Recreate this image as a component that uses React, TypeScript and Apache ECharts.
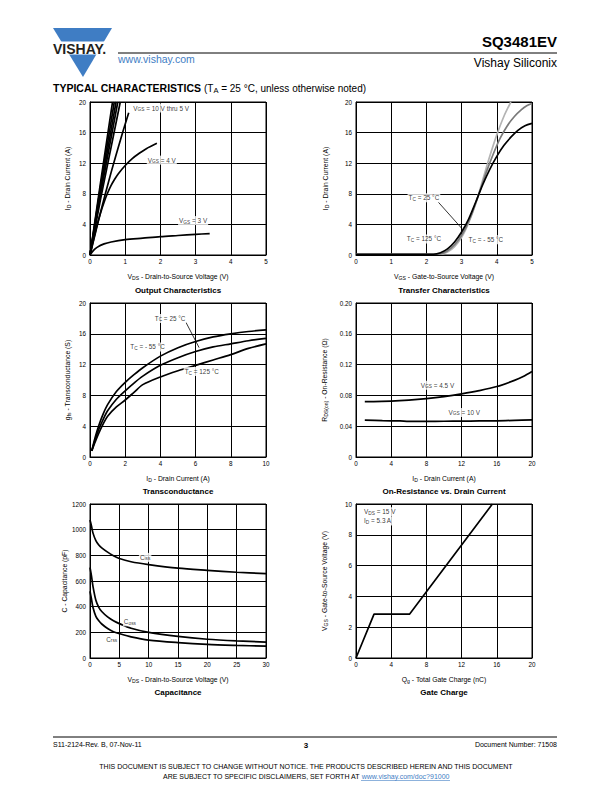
import React, { useEffect, useRef } from "react";
import * as echarts from "echarts";

const FONT = "'Liberation Sans', Arial, Helvetica, sans-serif";
const BLUE = "#3f7dc4";

// ---------- Output Characteristics: ID (A) vs VDS (V) ----------
const outVgs10 = [[0, 0], [0.3, 9.5], [0.64, 20]];
const outVgs9 = [[0, 0], [0.3, 9.0], [0.69, 20]];
const outVgs8 = [[0, 0], [0.3, 8.5], [0.74, 20]];
const outVgs7 = [[0, 0], [0.3, 8.0], [0.79, 20]];
const outVgs6 = [[0, 0], [0.3, 7.3], [0.86, 20]];
const outVgs5 = [[0, 0], [0.3, 5.6], [0.6, 10.8], [0.9, 15.6], [1.1, 18.6]];
const outVgs4 = [[0, 0], [0.1, 2.0], [0.2, 3.9], [0.3, 5.5], [0.4, 6.9], [0.5, 8.1], [0.6, 9.1], [0.7, 9.9], [0.8, 10.6], [1.0, 11.7], [1.2, 12.6], [1.4, 13.3], [1.6, 13.9], [1.9, 14.6]];
const outVgs3 = [[0, 0], [0.1, 0.6], [0.2, 1.0], [0.4, 1.45], [0.6, 1.7], [1.0, 2.0], [1.5, 2.2], [2.0, 2.4], [2.5, 2.55], [3.0, 2.7], [3.4, 2.8]];

// ---------- Transfer Characteristics: ID (A) vs VGS (V) ----------
const trM55 = [[0, 0.1], [2.4, 0.1], [2.6, 0.4], [2.8, 1.1], [3.0, 2.3], [3.2, 4.2], [3.4, 6.7], [3.6, 9.8], [3.8, 12.9], [4.0, 15.7], [4.2, 18.1], [4.4, 20.0]];
const tr25 = [[0, 0.1], [2.3, 0.1], [2.5, 0.3], [2.7, 0.9], [2.9, 1.9], [3.1, 3.4], [3.3, 5.5], [3.5, 8.1], [3.7, 10.8], [3.9, 13.2], [4.1, 15.3], [4.3, 16.9], [4.5, 18.1], [4.7, 19.0], [4.85, 19.5], [5.0, 19.8]];
const tr125 = [[0, 0.1], [2.2, 0.1], [2.4, 0.3], [2.6, 0.8], [2.8, 1.7], [3.0, 3.0], [3.2, 4.7], [3.4, 6.9], [3.6, 9.2], [3.8, 11.2], [4.0, 12.9], [4.2, 14.3], [4.4, 15.4], [4.6, 16.3], [4.8, 16.9], [5.0, 17.2]];

// ---------- Transconductance: gfs (S) vs ID (A) ----------
const gfsM55 = [[0.1, 0.8], [0.3, 2.6], [0.5, 4.1], [0.75, 5.6], [1, 6.8], [1.5, 8.5], [2, 9.7], [2.5, 10.7], [3, 11.6], [4, 13.1], [5, 14.2], [6, 15.0], [7, 15.6], [8, 16.0], [9, 16.3], [10, 16.5]];
const gfs25 = [[0.1, 0.8], [0.3, 2.3], [0.5, 3.6], [0.75, 4.9], [1, 6.0], [1.5, 7.5], [2, 8.6], [2.5, 9.6], [3, 10.5], [4, 11.9], [5, 12.9], [6, 13.7], [7, 14.3], [8, 14.7], [9, 15.1], [10, 15.4]];
const gfs125 = [[0.1, 0.8], [0.3, 2.0], [0.5, 3.1], [0.75, 4.3], [1, 5.3], [1.5, 6.5], [2, 7.4], [2.5, 8.4], [3, 9.4], [4, 10.4], [5, 11.2], [6, 11.9], [7, 12.6], [8, 13.3], [9, 14.1], [10, 14.7]];

// ---------- On-Resistance vs Drain Current: RDS(on) (Ω) vs ID (A) ----------
const rds45 = [[1, 0.072], [2, 0.072], [4, 0.0725], [6, 0.0738], [8, 0.0758], [10, 0.0785], [12, 0.082], [14, 0.0862], [16, 0.0915], [18, 0.0995], [19, 0.1045], [20, 0.111]];
const rds10 = [[1, 0.048], [3, 0.0472], [5, 0.0468], [6, 0.0462], [8, 0.0462], [10, 0.0464], [12, 0.0466], [14, 0.0468], [16, 0.047], [18, 0.0476], [20, 0.0482]];

// ---------- Capacitance: C (pF) vs VDS (V) ----------
const ciss = [[0, 1075], [0.25, 1030], [0.5, 975], [1, 915], [1.5, 880], [2, 858], [3, 825], [4, 797], [5, 775], [7, 750], [10, 728], [15, 700], [20, 683], [25, 668], [30, 657]];
const coss = [[0, 705], [0.25, 640], [0.5, 560], [1, 450], [1.5, 395], [2, 362], [3, 320], [4, 290], [5, 268], [7, 232], [10, 200], [15, 168], [20, 146], [25, 133], [30, 124]];
const crss = [[0, 520], [0.25, 460], [0.5, 395], [1, 325], [1.5, 290], [2, 265], [3, 230], [4, 205], [5, 190], [7, 165], [10, 140], [15, 120], [20, 106], [25, 98], [30, 92]];

// ---------- Gate Charge: VGS (V) vs Qg (nC) ----------
const gateCharge = [[0, 0], [2.05, 2.85], [6.1, 2.85], [15.5, 10]];

// axis ranges [min, max, interval]
const axOutX = [0, 5, 1];
const axOutY = [0, 20, 4];
const axTrX = [0, 5, 1];
const axTrY = [0, 20, 4];
const axGfsX = [0, 10, 2];
const axGfsY = [0, 20, 4];
const axRdsX = [0, 20, 4];
const axRdsY = [0, 0.2, 0.04];
const axCapX = [0, 30, 5];
const axCapY = [0, 1200, 200];
const axQgX = [0, 20, 4];
const axQgY = [0, 10, 2];

const mkRich = (size: number) => ({
  n: { fontSize: size, fontFamily: FONT, color: "#000" },
  s: { fontSize: size * 0.75, fontFamily: FONT, color: "#000", padding: [Math.round(size * 0.5), 0, 0, 0] },
});
const nameRich = mkRich(6.8);
const lblRich = mkRich(6.4);
const sub = (a: string, b: string, c = "") => `{n|${a}}{s|${b}}{n|${c}}`;
const plain = (v: number) => String(Math.round(v * 1000) / 1000);

function xAx(gi: number, r: number[], name: string) {
  return {
    type: "value", gridIndex: gi, min: r[0], max: r[1], interval: r[2],
    name, nameLocation: "middle", nameGap: 17,
    nameTextStyle: { fontSize: 6.8, fontFamily: FONT, color: "#000", rich: nameRich },
    axisLine: { show: true, onZero: false, lineStyle: { color: "#000", width: 1 } },
    axisTick: { show: false },
    axisLabel: { fontSize: 6.3, fontFamily: FONT, color: "#000", margin: 3, formatter: plain },
    splitLine: { show: true, lineStyle: { color: "#000", width: 1 } },
  };
}
function yAx(gi: number, r: number[], name: string, gap: number, fmt?: (v: number) => string) {
  return {
    type: "value", gridIndex: gi, min: r[0], max: r[1], interval: r[2],
    name, nameLocation: "middle", nameGap: gap, nameRotate: 90,
    nameTextStyle: { fontSize: 6.8, fontFamily: FONT, color: "#000", rich: nameRich },
    axisLine: { show: true, onZero: false, lineStyle: { color: "#000", width: 1 } },
    axisTick: { show: false },
    axisLabel: { fontSize: 6.3, fontFamily: FONT, color: "#000", margin: 4, formatter: fmt || plain },
    splitLine: { show: true, lineStyle: { color: "#000", width: 1 } },
  };
}
function curve(i: number, data: number[][], color = "#000", smooth: number | boolean = 0.3) {
  return {
    type: "line", xAxisIndex: i, yAxisIndex: i, data, symbol: "none", smooth,
    lineStyle: { color, width: 1.7 }, silent: true, z: 3,
  };
}
type Lbl = { at: number[]; text: string; align?: string; bg?: boolean };
function labels(i: number, items: Lbl[], arrows: number[][][] = []) {
  return {
    type: "scatter", xAxisIndex: i, yAxisIndex: i, symbolSize: 0, silent: true, z: 10,
    data: items.map((it) => ({
      value: it.at,
      label: {
        show: true, position: "inside", formatter: it.text, align: it.align || "center",
        backgroundColor: it.bg === false ? "transparent" : "#fff", padding: [0, 1],
        rich: lblRich, fontSize: 6.4, fontFamily: FONT, color: "#000", lineHeight: 9,
      },
    })),
    markLine: arrows.length
      ? {
          silent: true, symbol: ["none", "arrow"], symbolSize: [0, 5],
          lineStyle: { color: "#000", width: 0.8, type: "solid" }, label: { show: false },
          data: arrows.map((a) => [{ coord: a[0] }, { coord: a[1] }]),
        }
      : undefined,
  };
}

const grids = [
  { left: 90, top: 102, width: 176, height: 153 },
  { left: 356, top: 102, width: 176, height: 153 },
  { left: 90, top: 303, width: 176, height: 154 },
  { left: 356, top: 303, width: 176, height: 154 },
  { left: 90, top: 504, width: 176, height: 154 },
  { left: 356, top: 504, width: 176, height: 154 },
].map((g) => ({ ...g, show: true, borderColor: "#000", borderWidth: 1, backgroundColor: "transparent" }));

const titles = [
  { text: "Output Characteristics", x: 178, y: 290 },
  { text: "Transfer Characteristics", x: 444, y: 290 },
  { text: "Transconductance", x: 178, y: 491 },
  { text: "On-Resistance vs. Drain Current", x: 444, y: 491 },
  { text: "Capacitance", x: 178, y: 692 },
  { text: "Gate Charge", x: 444, y: 692 },
];

export default function App() {
  const ref = useRef<HTMLDivElement>(null);
  useEffect(() => {
    if (!ref.current) return;
    const chart = echarts.init(ref.current, undefined, { renderer: "svg" });
    const txt = (text: string, x: number, y: number, size: number, opts: any = {}) => ({
      type: "text", x, y, z: 50,
      style: {
        text, fill: opts.fill || "#000", fontSize: size, fontFamily: FONT,
        fontWeight: opts.bold ? "bold" : "normal", align: opts.align || "left",
        verticalAlign: "middle", rich: opts.rich,
      },
    });
    const option: any = {
      animation: false,
      backgroundColor: "#fff",
      grid: grids,
      xAxis: [
        xAx(0, axOutX, sub("V", "DS", " - Drain-to-Source Voltage (V)")),
        xAx(1, axTrX, sub("V", "GS", " - Gate-to-Source Voltage (V)")),
        xAx(2, axGfsX, sub("I", "D", " - Drain Current (A)")),
        xAx(3, axRdsX, sub("I", "D", " - Drain Current (A)")),
        xAx(4, axCapX, sub("V", "DS", " - Drain-to-Source Voltage (V)")),
        xAx(5, axQgX, sub("Q", "g", " - Total Gate Charge (nC)")),
      ],
      yAxis: [
        yAx(0, axOutY, sub("I", "D", " - Drain Current (A)"), 19),
        yAx(1, axTrY, sub("I", "D", " - Drain Current (A)"), 27),
        yAx(2, axGfsY, sub("g", "fs", " - Transconductance (S)"), 19),
        yAx(3, axRdsY, sub("R", "DS(on)", " - On-Resistance (Ω)"), 28, (v: number) => (v === 0 ? "0" : v.toFixed(2))),
        yAx(4, axCapY, "{n|C - Capacitance (pF)}", 20),
        yAx(5, axQgY, sub("V", "GS", " - Gate-to-Source Voltage (V)"), 28),
      ],
      series: [
        curve(0, outVgs10, "#000", false), curve(0, outVgs9, "#000", false), curve(0, outVgs8, "#000", false),
        curve(0, outVgs7, "#000", false), curve(0, outVgs6, "#000", false), curve(0, outVgs5),
        curve(0, outVgs4), curve(0, outVgs3),
        labels(0, [
          { at: [1.2, 19.2], text: sub("V", "GS", " = 10 V thru 5 V"), align: "left" },
          { at: [2.04, 12.4], text: sub("V", "GS", " = 4 V") },
          { at: [2.93, 4.5], text: sub("V", "GS", " = 3 V") },
        ]),
        curve(1, trM55, "#b4b4b4"), curve(1, tr25, "#7a7a7a"), curve(1, tr125, "#000"),
        labels(1, [
          { at: [1.93, 7.5], text: sub("T", "C", " = 25 °C") },
          { at: [1.93, 2.1], text: sub("T", "C", " = 125 °C") },
          { at: [3.69, 2.0], text: sub("T", "C", " = - 55 °C") },
        ], [[[2.34, 6.9], [3.0, 3.5]]]),
        curve(2, gfsM55), curve(2, gfs25), curve(2, gfs125),
        labels(2, [
          { at: [4.55, 18.0], text: sub("T", "C", " = 25 °C") },
          { at: [3.27, 14.3], text: sub("T", "C", " = - 55 °C") },
          { at: [6.35, 11.1], text: sub("T", "C", " = 125 °C") },
        ], [[[5.45, 17.5], [6.2, 14.2]]]),
        curve(3, rds45), curve(3, rds10),
        labels(3, [
          { at: [9.26, 0.0933], text: sub("V", "GS", " = 4.5 V") },
          { at: [12.3, 0.0578], text: sub("V", "GS", " = 10 V") },
        ]),
        curve(4, ciss), curve(4, coss), curve(4, crss),
        labels(4, [
          { at: [9.4, 784], text: sub("C", "iss") },
          { at: [6.8, 282], text: sub("C", "oss") },
          { at: [3.7, 147], text: sub("C", "rss") },
        ]),
        curve(5, gateCharge, "#000", false),
        labels(5, [
          { at: [0.8, 9.5], text: sub("V", "DS", " = 15 V"), align: "left" },
          { at: [0.8, 8.9], text: sub("I", "D", " = 5.3 A"), align: "left" },
        ]),
      ],
      graphic: [
        // logo
        { type: "polygon", shape: { points: [[53, 28], [112, 28], [83, 77]] }, style: { fill: BLUE } },
        { type: "rect", shape: { x: 50, y: 41.5, width: 66, height: 13 }, style: { fill: "#fff" } },
        txt("VISHAY.", 53, 48.5, 14, { bold: true, fill: "#231f20" }),
        txt("www.vishay.com", 118, 59, 10.5, { fill: BLUE }),
        txt("SQ3481EV", 557, 41, 15, { bold: true, align: "right" }),
        { type: "line", shape: { x1: 118, y1: 53, x2: 557, y2: 53 }, style: { stroke: "#000", lineWidth: 1 } },
        txt("Vishay Siliconix", 557, 63, 12, { align: "right" }),
        txt("{b|TYPICAL CHARACTERISTICS} {r|(T}{rs|A}{r| = 25 °C, unless otherwise noted)}", 53, 88, 10, {
          rich: {
            b: { fontSize: 10.5, fontWeight: "bold", fontFamily: FONT, fill: "#000" },
            r: { fontSize: 10, fontFamily: FONT, fill: "#000" },
            rs: { fontSize: 7.5, fontFamily: FONT, fill: "#000", padding: [4, 0, 0, 0] },
          },
        }),
        ...titles.map((t) => txt(t.text, t.x, t.y, 8, { bold: true, align: "center" })),
        // footer
        { type: "line", shape: { x1: 53, y1: 737, x2: 557, y2: 737 }, style: { stroke: "#000", lineWidth: 1 } },
        txt("S11-2124-Rev. B, 07-Nov-11", 53, 744, 7),
        txt("3", 306, 745, 8, { bold: true, align: "center" }),
        txt("Document Number: 71508", 557, 744, 7, { align: "right" }),
        txt("THIS DOCUMENT IS SUBJECT TO CHANGE WITHOUT NOTICE. THE PRODUCTS DESCRIBED HEREIN AND THIS DOCUMENT", 306, 766, 7, { align: "center" }),
        txt("{a|ARE SUBJECT TO SPECIFIC DISCLAIMERS, SET FORTH AT }{l|www.vishay.com/doc?91000}", 306, 776, 7, {
          align: "center",
          rich: {
            a: { fontSize: 7, fontFamily: FONT, fill: "#000" },
            l: { fontSize: 7, fontFamily: FONT, fill: BLUE },
          },
        }),
        { type: "line", shape: { x1: 361, y1: 780.5, x2: 450, y2: 780.5 }, style: { stroke: BLUE, lineWidth: 0.6 } },
      ],
    };
    chart.setOption(option);
    return () => chart.dispose();
  }, []);
  return <div ref={ref} style={{ position: "absolute", left: 0, top: 0, width: 612, height: 792 }} />;
}
